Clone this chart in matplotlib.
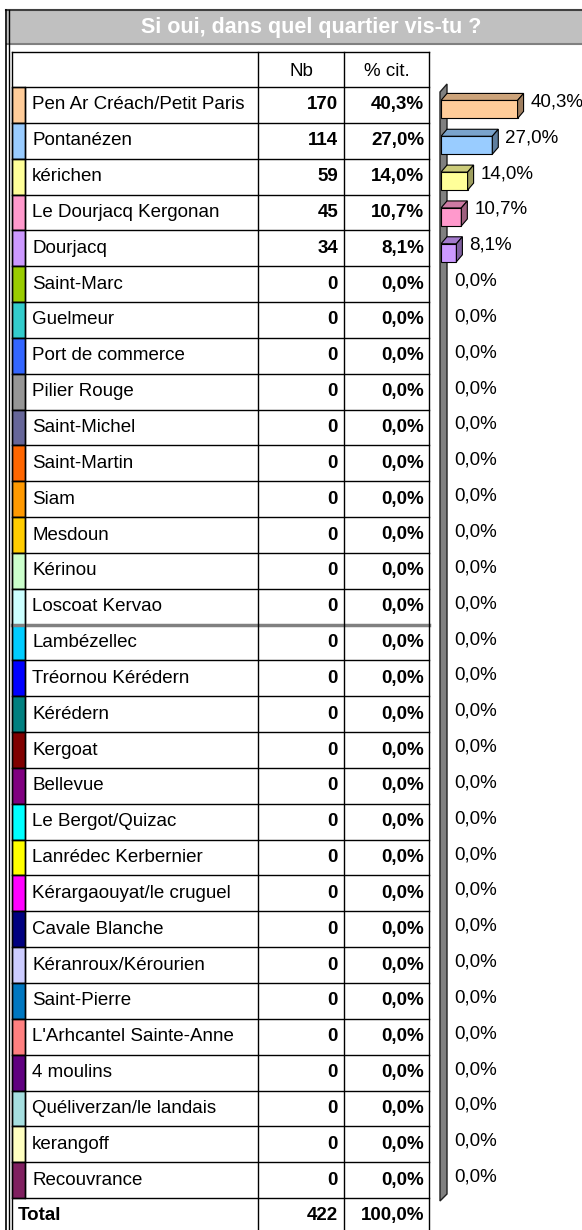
import matplotlib.pyplot as plt
from matplotlib.patches import Polygon, Rectangle
import matplotlib.colors as mcolors
import numpy as np

plt.rcParams['font.family'] = ['Liberation Sans', 'DejaVu Sans']

# quartiers, effectifs et pourcentages
quartiers = ["Pen Ar Créach/Petit Paris", "Pontanézen", "kérichen", "Le Dourjacq Kergonan",
             "Dourjacq", "Saint-Marc", "Guelmeur", "Port de commerce", "Pilier Rouge",
             "Saint-Michel", "Saint-Martin", "Siam", "Mesdoun", "Kérinou", "Loscoat Kervao",
             "Lambézellec", "Tréornou Kérédern", "Kérédern", "Kergoat", "Bellevue",
             "Le Bergot/Quizac", "Lanrédec Kerbernier", "Kérargaouyat/le cruguel",
             "Cavale Blanche", "Kéranroux/Kérourien", "Saint-Pierre", "L'Arhcantel Sainte-Anne",
             "4 moulins", "Quéliverzan/le landais", "kerangoff", "Recouvrance"]
nb = [170, 114, 59, 45, 34, 0, 0, 0, 0, 0, 0, 0, 0, 0, 0, 0,
      0, 0, 0, 0, 0, 0, 0, 0, 0, 0, 0, 0, 0, 0, 0]
pct = [40.3, 27.0, 14.0, 10.7, 8.1, 0.0, 0.0, 0.0, 0.0, 0.0, 0.0, 0.0, 0.0, 0.0, 0.0, 0.0,
       0.0, 0.0, 0.0, 0.0, 0.0, 0.0, 0.0, 0.0, 0.0, 0.0, 0.0, 0.0, 0.0, 0.0, 0.0]
couleurs = ["#FFCC99", "#99CCFF", "#FFFF99", "#FF99CC", "#CC99FF", "#99CC00", "#33CCCC",
            "#3366FF", "#969696", "#666699", "#FF6600", "#FF9900", "#FFCC00", "#CCFFCC",
            "#CCFFFF", "#00CCFF", "#0000FF", "#008080", "#800000", "#800080", "#00FFFF",
            "#FFFF00", "#FF00FF", "#000080", "#CCCCFF", "#0077C0", "#FF8080", "#600080",
            "#A6DFE0", "#FFFFC0", "#802060"]
total_nb = 422
total_pct = 100.0

titre = "Si oui, dans quel quartier vis-tu ?"

W, H = 582, 1230
fig = plt.figure(figsize=(W / 100, H / 100), dpi=100)

# axes en pixels pour le tableau
ax = fig.add_axes([0, 0, 1, 1])
ax.set_xlim(0, W)
ax.set_ylim(H, 0)
ax.axis("off")

ROW0 = 87.0      # haut de la premiere ligne
PAS = 35.84      # hauteur d'une ligne
X_L, X_SW, X_NB, X_PC, X_R = 12, 25, 258, 344, 429
FS = 13.5

def fmt_pct(v):
    return f"{v:.1f}".replace(".", ",") + "%"

# cadre + bandeau de titre
ax.add_patch(Rectangle((7, 10), W, 33, facecolor="#C0C0C0", edgecolor="none"))
ax.plot([6, W], [10, 10], color="#404040", lw=1.5)
ax.plot([7, W], [43.5, 43.5], color="#808080", lw=1.5)
ax.plot([6, 6], [10, H], color="black", lw=1.2)
ax.plot([8.5, 8.5], [10, H], color="black", lw=1.0)
ax.text(311, 27, titre, color="white", fontsize=15.5, fontweight="bold",
        ha="center", va="center")

# tableau
ax.plot([X_L, X_R], [52, 52], color="black", lw=1)
n = len(quartiers)
for k in range(n + 2):
    y = ROW0 + k * PAS
    if k == 15:
        ax.plot([X_L, X_R], [y, y], color="#808080", lw=2.5)
    else:
        ax.plot([X_L, X_R], [y, y], color="black", lw=1)
for x in (X_L, X_NB, X_PC, X_R):
    ax.plot([x, x], [52, H], color="black", lw=1)
ax.plot([X_SW, X_SW], [ROW0, ROW0 + n * PAS], color="black", lw=1)

ax.text((X_NB + X_PC) / 2, 71, "Nb", fontsize=FS, ha="center", va="center")
ax.text((X_PC + X_R) / 2, 71, "% cit.", fontsize=FS, ha="center", va="center")

for i, (q, v, p, c) in enumerate(zip(quartiers, nb, pct, couleurs)):
    y0 = ROW0 + i * PAS
    yc = y0 + PAS / 2
    ax.add_patch(Rectangle((X_L, y0), X_SW - X_L, PAS, facecolor=c,
                           edgecolor="black", lw=1))
    ax.text(32, yc, q, fontsize=FS, ha="left", va="center")
    ax.text(338, yc, str(v), fontsize=FS, fontweight="bold", ha="right", va="center")
    ax.text(424, yc, fmt_pct(p), fontsize=FS, fontweight="bold", ha="right", va="center")

yc = ROW0 + n * PAS + PAS / 2
ax.text(18, yc, "Total", fontsize=FS, fontweight="bold", ha="left", va="center")
ax.text(338, yc, str(total_nb), fontsize=FS, fontweight="bold", ha="right", va="center")
ax.text(424, yc, fmt_pct(total_pct), fontsize=FS, fontweight="bold", ha="right", va="center")

# mur gris du graphique 3D
ax.add_patch(Polygon([(440, 92), (447, 84), (447, 1194), (440, 1201)], closed=True,
                     facecolor="#808080", edgecolor="#202020", lw=1))

# barres 3D
PX_PCT = 1.9
X0 = 441
bx = fig.add_axes([X0 / W, 0, (W - X0) / W, 1])
bx.set_xlim(0, (W - X0) / PX_PCT)
bx.set_ylim((H - ROW0 - PAS / 2) / PAS, -(ROW0 + PAS / 2) / PAS)
bx.axis("off")

dx = 6 / PX_PCT
dy = -7 / PAS
h = 18 / PAS
off = 4.5 / PAS
for i, (p, c) in enumerate(zip(pct, couleurs)):
    if p > 0:
        rgb = np.array(mcolors.to_rgb(c))
        yt = i + off - h / 2
        yb = i + off + h / 2
        bx.barh(i + off, p, height=h, color=c, edgecolor="black", lw=0.8)
        bx.add_patch(Polygon([(0, yt), (p, yt), (p + dx, yt + dy), (dx, yt + dy)],
                             closed=True, facecolor=rgb * 0.8, edgecolor="black", lw=0.8))
        bx.add_patch(Polygon([(p, yt), (p + dx, yt + dy), (p + dx, yb + dy), (p, yb)],
                             closed=True, facecolor=rgb * 0.62, edgecolor="black", lw=0.8))
    bx.text(p + dx + 7 / PX_PCT, i - 3 / PAS, fmt_pct(p), fontsize=FS,
            ha="left", va="center", clip_on=False)

fig.savefig("out.png", dpi=100)
